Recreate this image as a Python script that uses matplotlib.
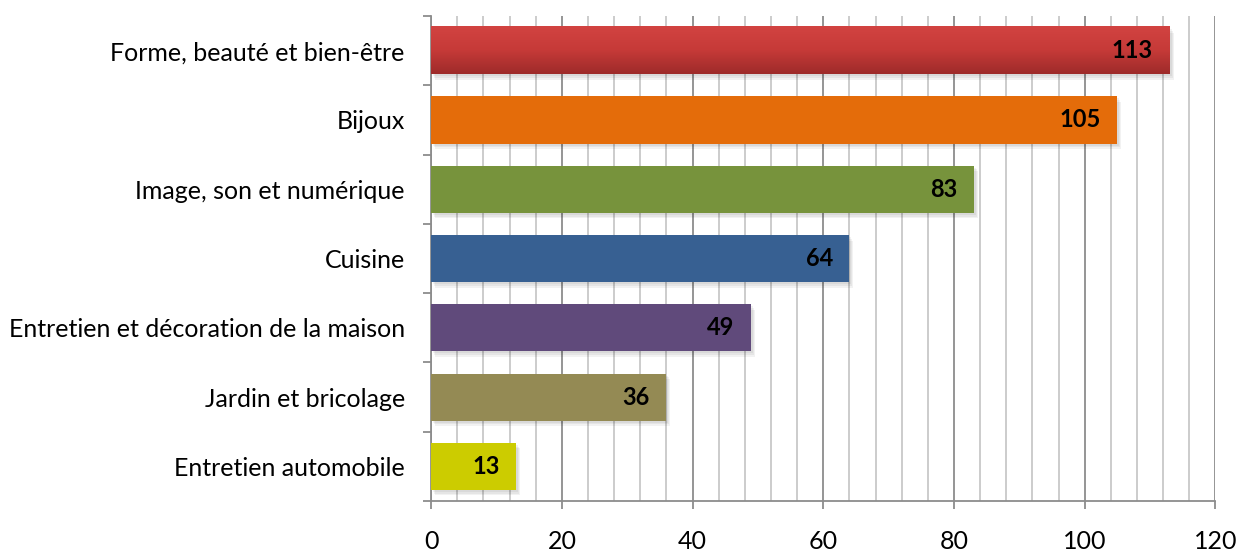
import matplotlib
matplotlib.use("Agg")
import matplotlib.pyplot as plt
from matplotlib.ticker import MultipleLocator, FixedLocator
from matplotlib.colors import LinearSegmentedColormap
import numpy as np

categories = ["Forme, beauté et bien-être", "Bijoux", "Image, son et numérique", "Cuisine",
              "Entretien et décoration de la maison", "Jardin et bricolage", "Entretien automobile"]
values = [113, 105, 83, 64, 49, 36, 13]
colors = ["#C63A36", "#E46C0A", "#77933C", "#376092", "#604A7B", "#948A54", "#CCCC00"]

plt.rcParams['font.family'] = ['Lato', 'DejaVu Sans']

fig = plt.figure(figsize=(12.39, 5.53), dpi=100)
ax = fig.add_axes([0.348, 0.094, 0.633, 0.877])

n = len(categories)
ypos = np.arange(n)[::-1]
h = 0.68

# soft shadows
for k, a in enumerate([0.05, 0.05, 0.05]):
    ax.barh(ypos - 0.03 - 0.025 * k, values, height=h, left=0.3 + 0.15 * k,
            color="#000000", alpha=a, zorder=2, linewidth=0)
bars = ax.barh(ypos, values, height=h, color=colors, zorder=3, linewidth=0)

# gradient on the first (red) bar
red_cmap = LinearSegmentedColormap.from_list("redgrad", ["#9E2B2A", "#C63A38", "#D24341"])
grad = np.linspace(0, 1, 100).reshape(-1, 1)
ax.imshow(grad, cmap=red_cmap, aspect="auto", origin="lower",
          extent=(0, values[0], ypos[0] - h / 2, ypos[0] + h / 2), zorder=3.5)

for y, v in zip(ypos, values):
    ax.annotate(str(v), xy=(v, y), xytext=(-12, 0), textcoords="offset points",
                ha="right", va="center", fontsize=17, fontweight="bold", color="black", zorder=4)

ax.set_xlim(0, 120)
ax.set_ylim(-0.5, n - 0.5)
ax.xaxis.set_major_locator(MultipleLocator(20))
ax.xaxis.set_minor_locator(MultipleLocator(4))
ax.grid(True, which="major", axis="x", color="#8C8C8C", linewidth=1.3, zorder=0)
ax.grid(True, which="minor", axis="x", color="#C8C8C8", linewidth=1.3, zorder=0)
ax.set_axisbelow(True)

ax.set_yticks(ypos)
ax.set_yticklabels(categories, fontsize=18)
ax.yaxis.set_minor_locator(FixedLocator(np.arange(-0.5, n, 1.0)))
ax.tick_params(axis="y", which="major", length=0, pad=19)
ax.tick_params(axis="y", which="minor", length=6, color="#8C8C8C", width=1.3)
ax.tick_params(axis="x", which="major", length=6, color="#8C8C8C", width=1.3, pad=15, labelsize=18)
ax.tick_params(axis="x", which="minor", length=0)

for s in ["top", "right"]:
    ax.spines[s].set_visible(False)
for s in ["left", "bottom"]:
    ax.spines[s].set_color("#8C8C8C")
    ax.spines[s].set_linewidth(1.3)

fig.savefig("out.png", dpi=100)
